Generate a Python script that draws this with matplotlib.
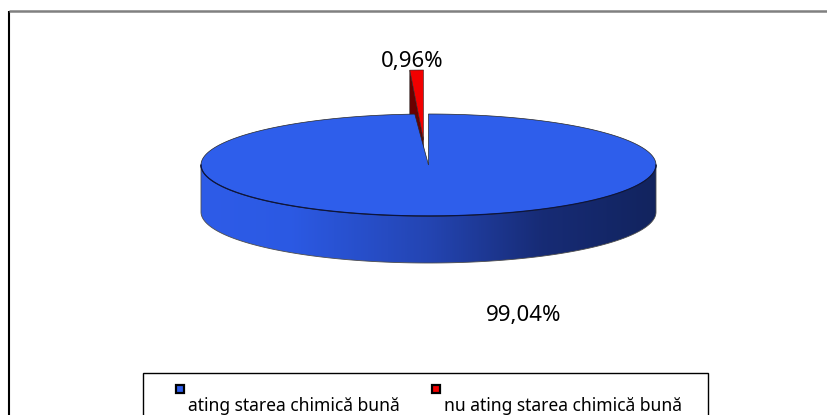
'''
3D-style pie: share of water bodies reaching good chemical status.
'''

import numpy as np
import matplotlib as mpl
from matplotlib import pyplot as plt
from matplotlib.patches import Polygon, Rectangle
from matplotlib.colors import LinearSegmentedColormap

mpl.rcParams['font.family'] = ['Noto Sans', 'DejaVu Sans']

#(0) Data:
labels  = ['ating starea chimică bună', 'nu ating starea chimică bună']
shares  = [99.04, 0.96]
tops    = ['#2E5EEB', '#F20000']
sides   = ['#2E5EEB', '#6A0000']

### pie geometry (pixel units):
cx, cy  = 428.5, 165.0
rx, ry  = 227.5, 51.0
depth   = 47.0
expl    = (-5.0, -25.0)   # offset of the exploded slice apex
ry_expl = 70.0            # perspective stretch of the exploded slice


def rim(th, x0=cx, y0=cy, a=rx, b=ry, dz=0.0):
	th = np.radians(th)
	return np.column_stack([x0 + a*np.cos(th), y0 - b*np.sin(th) + dz])


#(1) Plot:
plt.close('all')
fig = plt.figure(figsize=(8.28, 4.15), dpi=100)
ax  = fig.add_axes([0, 0, 1, 1])
ax.set_xlim(0, 828)
ax.set_ylim(415, 0)
ax.axis('off')

### slice angles (clockwise from 12 o'clock):
frac   = np.array(shares) / np.sum(shares)
bounds = 90 - 360*np.concatenate([[0], np.cumsum(frac)])
b0, b1 = bounds[0], bounds[1]   # blue: b0 -> b1
r0, r1 = bounds[1], bounds[2]   # red : r0 -> r1

### exploded red slice:
ax0, ay0 = cx + expl[0], cy + expl[1]
rr   = rim(np.linspace(r0, r1, 20), ax0, ay0, rx, ry_expl)
face = np.array([rr[0], [ax0, ay0], [ax0, ay0 + depth], rr[0] + [0, depth]])
ax.add_patch(Polygon(face, closed=True, fc=sides[1], ec='0.15', lw=0.4, zorder=1))
ax.add_patch(Polygon(np.vstack([[ax0, ay0], rr]), closed=True, fc=tops[1], ec='0.15', lw=0.4, zorder=2))

### blue side wall with horizontal shading:
th_front = np.linspace(-180, 0, 300)
top_arc  = rim(th_front)
bot_arc  = rim(th_front[::-1], dz=depth)
wall     = Polygon(np.vstack([top_arc, bot_arc]), closed=True, fc='none', ec='0.3', lw=0.6, zorder=4)
ax.add_patch(wall)
cmap = LinearSegmentedColormap.from_list('wall', [
	(0.00, (0.18, 0.36, 0.91)),
	(0.20, (0.17, 0.35, 0.89)),
	(0.50, (0.14, 0.27, 0.70)),
	(0.75, (0.09, 0.17, 0.46)),
	(1.00, (0.07, 0.14, 0.37)),
])
grad = np.linspace(0, 1, 256)[None, :]
im   = ax.imshow(grad, cmap=cmap, aspect='auto', extent=(cx - rx, cx + rx, cy + ry + depth, cy - 5),
                 zorder=3, interpolation='bicubic')
im.set_clip_path(wall)

### blue top face:
arc = rim(np.linspace(b0, b1, 600))
ax.add_patch(Polygon(np.vstack([[cx, cy], arc]), closed=True, fc=tops[0], ec='0.15', lw=0.5, zorder=5))
ax.plot(top_arc[:, 0], top_arc[:, 1], color='#0B1440', lw=0.9, zorder=6)

### value labels:
fmt = lambda v: f'{v:.2f}%'.replace('.', ',')
ax.text(412, 61, fmt(shares[1]), ha='center', va='center', fontsize=16, color='k', zorder=7)
ax.text(524, 315, fmt(shares[0]), ha='center', va='center', fontsize=16, color='k', zorder=7)

### legend:
ax.add_patch(Rectangle((143, 373), 565, 60, fc='white', ec='k', lw=1.0, zorder=7))
for x, s, c in zip([176, 432], labels, tops):
	ax.add_patch(Rectangle((x, 385), 8, 8, fc=c, ec='k', lw=1.6, zorder=8))
	ax.text(x + 12, 411, s, ha='left', va='baseline', fontsize=12.6, color='k', zorder=8)

### chart frame:
ax.plot([9, 9], [11, 420], color='k', lw=1.5, solid_capstyle='butt', zorder=9, clip_on=False)
ax.plot([9, 830], [11, 11], color='#808080', lw=1.8, solid_capstyle='butt', zorder=9, clip_on=False)

plt.savefig('out.png', dpi=100, facecolor='white')
